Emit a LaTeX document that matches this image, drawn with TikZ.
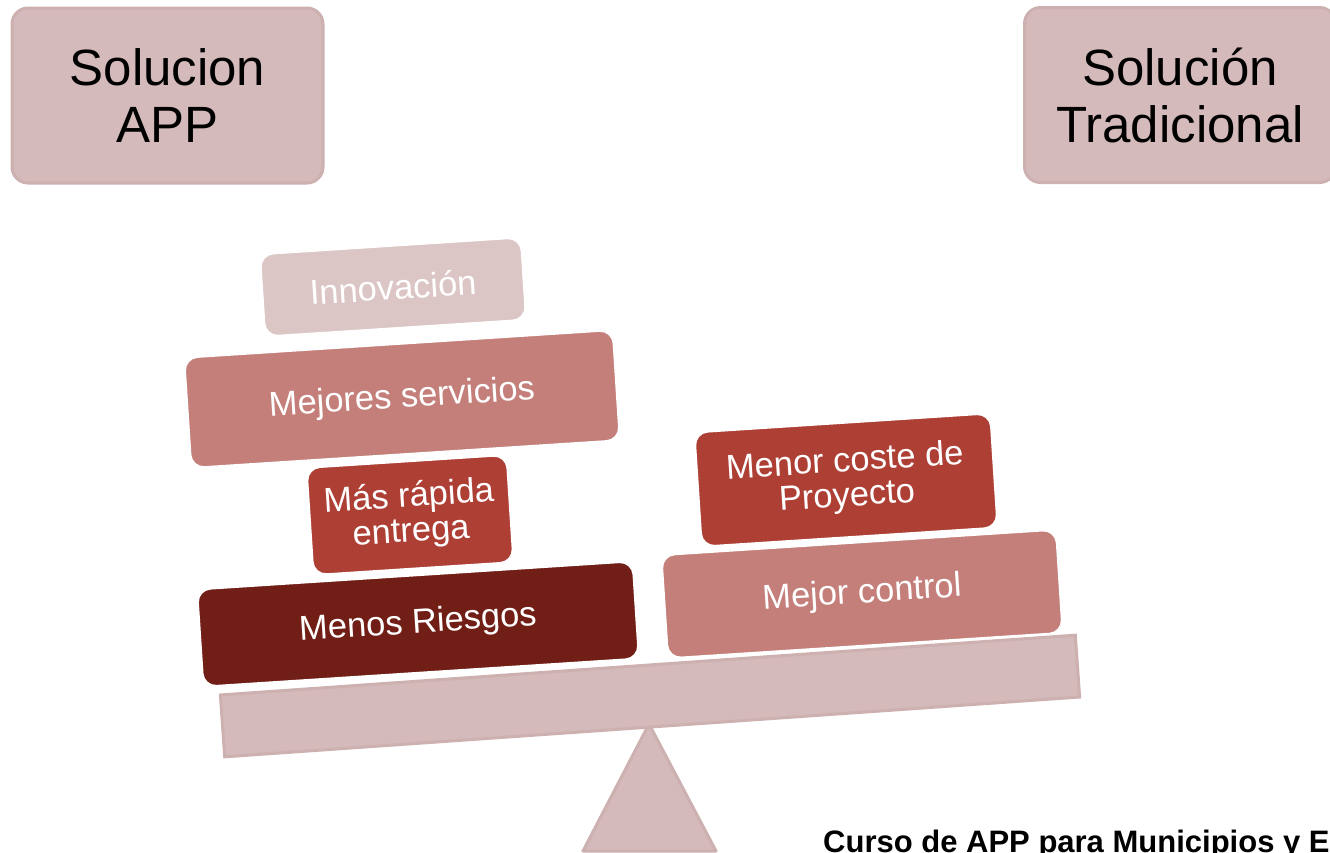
\documentclass[tikz,border=0pt]{standalone}
\usepackage{fontspec}
\setmainfont{Liberation Sans}
\definecolor{topfill}{HTML}{D4BABA}
\definecolor{topline}{HTML}{CDB0B0}
\definecolor{innofill}{HTML}{DBC6C5}
\definecolor{midfill}{HTML}{C47F7A}
\definecolor{redfill}{HTML}{AD3F35}
\definecolor{darkfill}{HTML}{711F16}
\begin{document}
\begin{tikzpicture}[x=1pt,y=-1pt,
  topbox/.style={rounded corners=16pt, fill=topfill, draw=topline, line width=3pt,
    minimum width=311pt, minimum height=175pt, inner sep=0pt, align=center,
    font=\fontsize{51}{57}\selectfont},
  blk/.style={rounded corners=13pt, draw=white, line width=1.5pt, text=white,
    inner sep=0pt, align=center, font=\fontsize{34.5}{35}\selectfont, rotate=3.7},
  beamstyle/.style={fill=topfill, draw=topline, line width=3pt, inner sep=0pt,
    minimum width=857pt, minimum height=62pt, rotate=4}]
\path[use as bounding box, clip] (0,0) rectangle (1330,852);

\node[topbox] (app) at (167.5,95.5) {Solucion\\APP};
\node[topbox] (trad) at (1180,95) {Solución\\Tradicional};

% fulcrum
\coordinate (apex) at (649,724);
\coordinate (bl) at (583,851);
\coordinate (br) at (716,851);
\draw[fill=topfill, draw=topline, line width=3pt, line join=round] (apex) -- (bl) -- (br) -- cycle;

% beam
\node[beamstyle] (beam) at (650,696) {};

% left stack
\node[blk, fill=darkfill, minimum width=436pt, minimum height=97pt] (riesgos) at (418,624) {Menos Riesgos};
\node[blk, fill=redfill, minimum width=200pt, minimum height=107pt] (rapida) at (410,515) {Más rápida\\entrega};
\node[blk, fill=midfill, minimum width=429pt, minimum height=110pt] (servicios) at (402,399) {Mejores servicios};
\node[blk, fill=innofill, minimum width=261pt, minimum height=82pt] (inno) at (393,287) {Innovación};

% right stack
\node[blk, fill=midfill, minimum width=395pt, minimum height=103pt] (control) at (862,594) {Mejor control};
\node[blk, fill=redfill, minimum width=296pt, minimum height=114pt] (coste) at (846,480) {Menor coste de\\Proyecto};

% footer
\node[anchor=base west, inner sep=0pt, font=\fontsize{31}{36}\selectfont\bfseries] (curso) at (823,852) {Curso de APP para Municipios y E};
\end{tikzpicture}
\end{document}
